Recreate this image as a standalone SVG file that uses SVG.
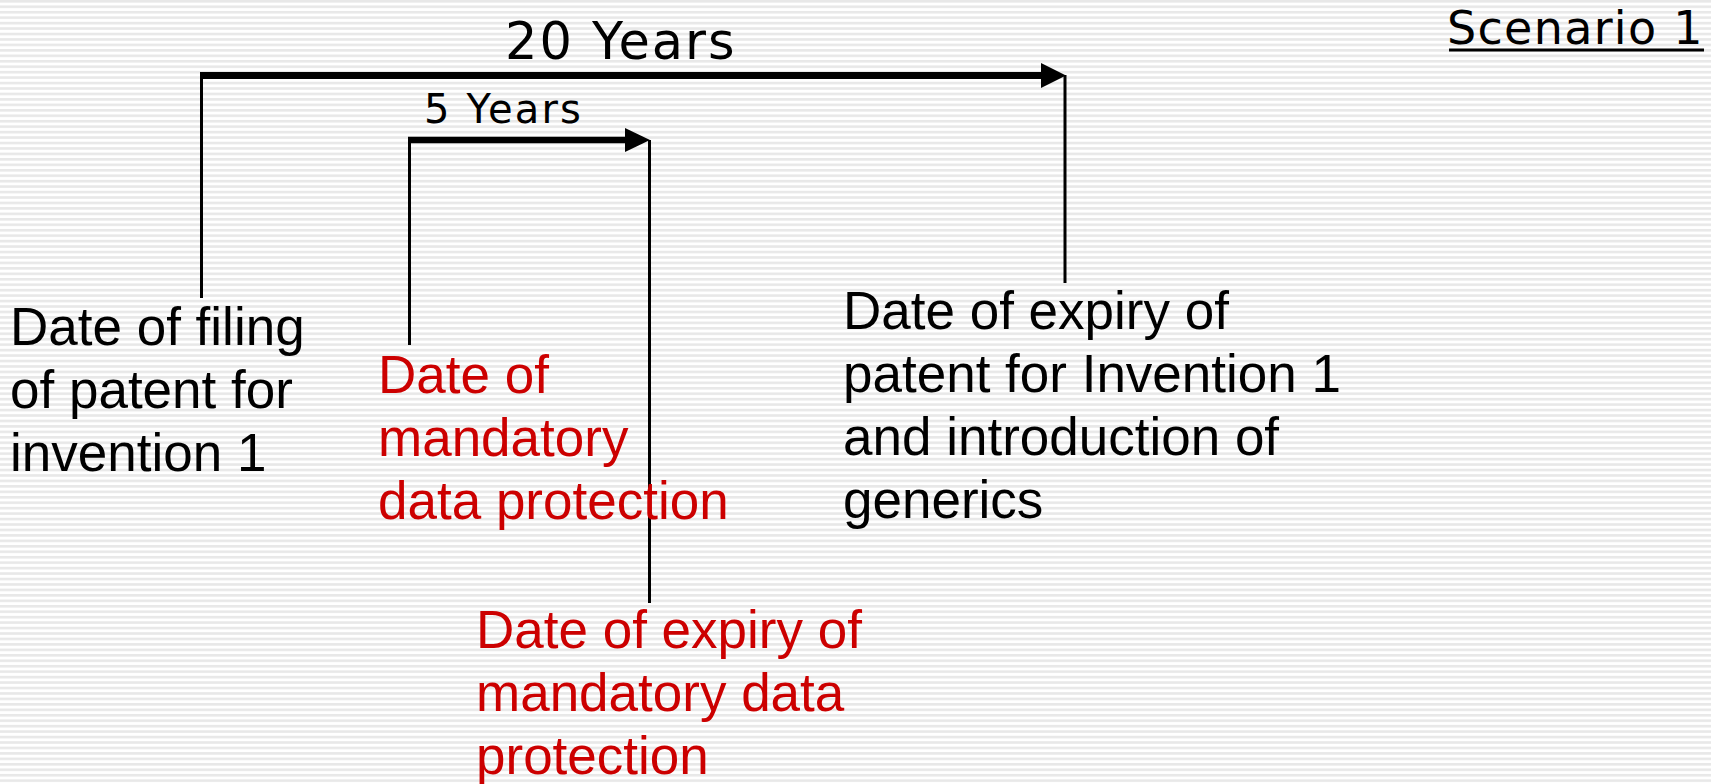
<svg xmlns="http://www.w3.org/2000/svg" width="1711" height="784" viewBox="0 0 1711 784">
  <defs>
    <pattern id="stripes" x="0" y="0" width="20" height="5.45" patternUnits="userSpaceOnUse">
      <rect x="0" y="0" width="20" height="5.45" fill="#ffffff"/>
      <rect x="0" y="0" width="20" height="2.6" fill="#e8e8e8"/>
    </pattern>
    <style>
      .lbl { font-family: "Liberation Sans", Arial, sans-serif; font-size: 53px; }
      .blk { fill: #000000; }
      .red { fill: #CC0000; }
      .dur { font-family: "DejaVu Sans", Verdana, sans-serif; fill: #000000; }
      .tick { stroke: #000000; stroke-width: 3; fill: none; }
      .span { stroke: #000000; fill: none; }
      .head { fill: #000000; }
    </style>
  </defs>
  <rect x="0" y="0" width="1711" height="784" fill="url(#stripes)"/>

  <g id="connectors">
    <!-- 20 years span -->
    <line class="span" x1="200" y1="75.5" x2="1043" y2="75.5" stroke-width="7"/>
    <polygon class="head" points="1041,63 1066,75.5 1041,88"/>
    <line class="tick" x1="201.5" y1="72" x2="201.5" y2="298"/>
    <line class="tick" x1="1065" y1="75" x2="1065" y2="283"/>
    <!-- 5 years span -->
    <line class="span" x1="408" y1="140" x2="627" y2="140" stroke-width="6.5"/>
    <polygon class="head" points="625,128 650,140 625,152"/>
    <line class="tick" x1="409.5" y1="137" x2="409.5" y2="345"/>
    <line class="tick" x1="649.5" y1="140" x2="649.5" y2="603"/>
  </g>

  <g id="title">
    <text class="dur" x="1447" y="44" font-size="46" letter-spacing="1.3">Scenario 1</text>
    <line x1="1449" y1="50" x2="1704" y2="50" stroke="#000000" stroke-width="3"/>
  </g>

  <g id="span-20">
    <text class="dur" x="505" y="59" font-size="51" letter-spacing="2">20 Years</text>
  </g>

  <g id="span-5">
    <text class="dur" x="424" y="123" font-size="40" letter-spacing="2.2">5 Years</text>
  </g>

  <g id="filing">
    <text class="lbl blk" x="10">
      <tspan x="10" y="345">Date of filing</tspan>
      <tspan x="10" y="408">of patent for</tspan>
      <tspan x="10" y="471">invention 1</tspan>
    </text>
  </g>

  <g id="data-protection-start">
    <text class="lbl red" x="378">
      <tspan x="378" y="393">Date of</tspan>
      <tspan x="378" y="456">mandatory</tspan>
      <tspan x="378" y="519">data protection</tspan>
    </text>
  </g>

  <g id="patent-expiry">
    <text class="lbl blk" x="843">
      <tspan x="843" y="329">Date of expiry of</tspan>
      <tspan x="843" y="392">patent for Invention 1</tspan>
      <tspan x="843" y="455">and introduction of</tspan>
      <tspan x="843" y="518">generics</tspan>
    </text>
  </g>

  <g id="data-protection-expiry">
    <text class="lbl red" x="476">
      <tspan x="476" y="648">Date of expiry of</tspan>
      <tspan x="476" y="711">mandatory data</tspan>
      <tspan x="476" y="774">protection</tspan>
    </text>
  </g>
</svg>
